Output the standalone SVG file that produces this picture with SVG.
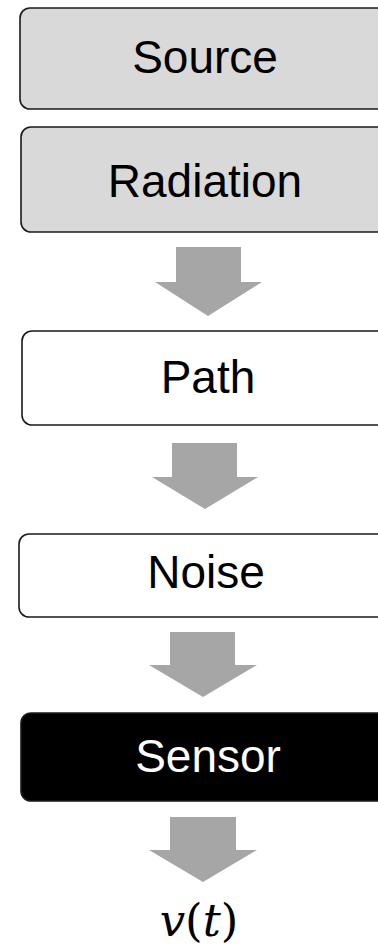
<svg xmlns="http://www.w3.org/2000/svg" width="378" height="946" viewBox="0 0 378 946">
  <defs>
    <style>
      .box { stroke: #1a1a1a; stroke-width: 1.6; }
      .grey { fill: #d9d9d9; }
      .white { fill: #ffffff; }
      .black { fill: #000000; }
      .label { font-family: "Liberation Sans", Arial, sans-serif; font-size: 46px; text-anchor: middle; fill: #000; }
      .inv { fill: #ffffff; }
      .arrow { fill: #a6a6a6; }
      .math { font-family: "DejaVu Serif", "Liberation Serif", serif; font-size: 45px; fill: #000; text-anchor: middle; }
    </style>
  </defs>

  <rect width="378" height="946" fill="#ffffff"/>

  <g id="source">
    <rect class="box grey" x="20" y="8" width="380" height="101" rx="10"/>
    <text class="label" x="205" y="73">Source</text>
  </g>

  <g id="radiation">
    <rect class="box grey" x="21" y="127" width="380" height="105" rx="10"/>
    <text class="label" x="205" y="197">Radiation</text>
  </g>

  <g id="path">
    <rect class="box white" x="22" y="331" width="380" height="94" rx="10"/>
    <text class="label" x="208" y="393">Path</text>
  </g>

  <g id="noise">
    <rect class="box white" x="19" y="534" width="380" height="83" rx="10"/>
    <text class="label" x="206" y="588">Noise</text>
  </g>

  <g id="sensor">
    <rect class="box black" x="21" y="713" width="380" height="88" rx="10"/>
    <text class="label inv" x="208" y="772">Sensor</text>
  </g>

  <g id="output">
    <text class="math" x="199" y="936"><tspan font-style="italic">v</tspan>(<tspan font-style="italic">t</tspan>)</text>
  </g>

  <g id="connectors">
    <polygon class="arrow" points="176,247 241,247 241,282 262,282 208,316 155,282 176,282"/>
    <polygon class="arrow" points="172,443 237,443 237,477 258,477 205,509 152,477 172,477"/>
    <polygon class="arrow" points="170,632 235,632 235,665 257,665 203,697 149,665 170,665"/>
    <polygon class="arrow" points="170,817 236,817 236,850 257,850 203,882 149,850 170,850"/>
  </g>
</svg>
